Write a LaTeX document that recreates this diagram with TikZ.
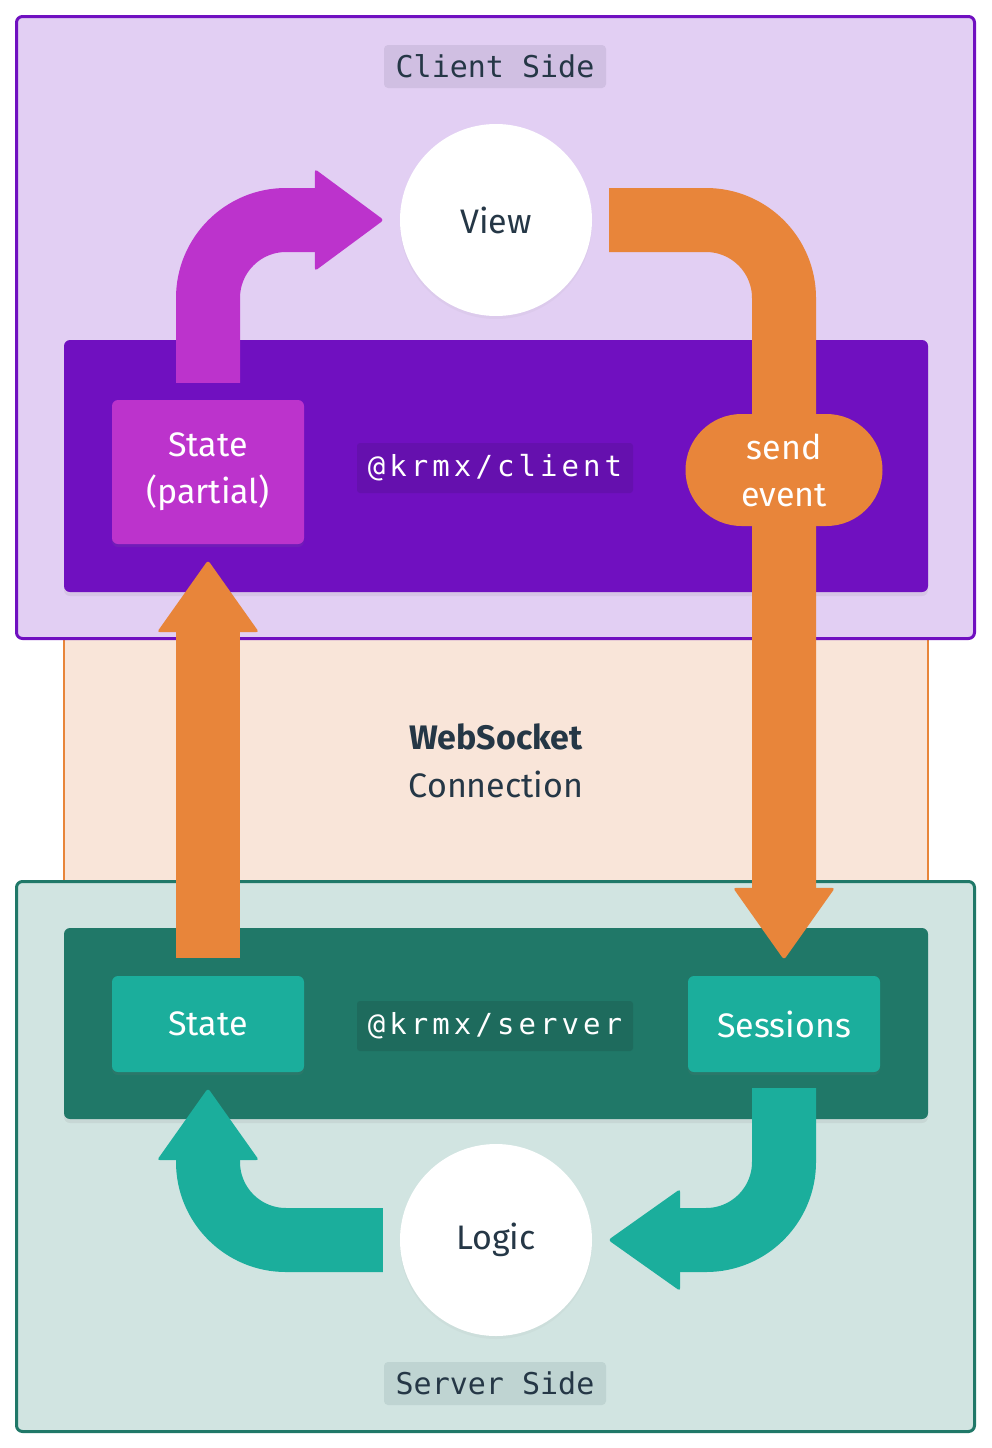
\documentclass[tikz,border=0pt]{standalone}
\usepackage{fontspec}
\setmainfont{Fira Sans}
\newfontfamily\monoA{DejaVu Sans Mono}
\newfontfamily\monoB[LetterSpace=14]{DejaVu Sans Mono}
\usetikzlibrary{calc,shadows}
\definecolor{clientbg}{HTML}{E2CFF3}
\definecolor{purp}{HTML}{7010C0}
\definecolor{purpdark}{HTML}{6510AE}
\definecolor{magen}{HTML}{BC33CC}
\definecolor{clientlab}{HTML}{D0BFE2}
\definecolor{orng}{HTML}{E8853A}
\definecolor{wsbg}{HTML}{F9E5D9}
\definecolor{serverbg}{HTML}{D1E4E1}
\definecolor{sgreen}{HTML}{207868}
\definecolor{sgreendark}{HTML}{1E6B5D}
\definecolor{teal}{HTML}{1BAE9C}
\definecolor{serverlab}{HTML}{BFD4D2}
\definecolor{ink}{HTML}{253746}
\pgfdeclarelayer{bg}
\pgfdeclarelayer{mid}
\pgfsetlayers{bg,mid,main}
\tikzset{
  sidebox/.style={draw, line width=3pt, rounded corners=6pt, minimum width=958pt},
  panel/.style={rounded corners=6pt, minimum width=864pt, drop shadow={opacity=0.12, shadow xshift=0pt, shadow yshift=-4pt}},
  sidelabel/.style={rounded corners=4pt, minimum width=222pt, minimum height=43pt, text=ink, font=\monoA\fontsize{30}{30}\selectfont},
  liblabel/.style={rounded corners=3pt, minimum width=276pt, minimum height=50pt, text=white, font=\monoB\fontsize{29}{30}\selectfont},
  databox/.style={rounded corners=6pt, minimum width=192pt, text=white, align=center, font=\fontsize{34}{47}\selectfont, drop shadow={opacity=0.12, shadow xshift=0pt, shadow yshift=-3pt}},
  bubble/.style={circle, fill=white, minimum size=192pt, text=ink, font=\fontsize{34}{40}\selectfont, drop shadow={opacity=0.06, shadow xshift=0pt, shadow yshift=-3pt}},
  shaft/.style={line width=64pt, rounded corners=78pt},
  arrowhead/.style={rounded corners=3pt}
}
\begin{document}
\begin{tikzpicture}[x=1pt,y=-1pt]
\useasboundingbox (0,0) rectangle (992,1448);
\begin{pgfonlayer}{bg}
\fill[white] (0,0) rectangle (992,1448);
% websocket band
\node[fill=wsbg, draw=orng, line width=2.5pt, minimum width=864pt, minimum height=262pt] (ws) at (496,760) {};
% client side
\node[sidebox, draw=purp, fill=clientbg, minimum height=622pt] (client) at (495.5,327.5) {};
% server side
\node[sidebox, draw=sgreen, fill=serverbg, minimum height=550pt] (server) at (495.5,1156.5) {};
\node[panel, fill=purp, minimum height=252pt] (cpanel) at (496,466) {};
\node[panel, fill=sgreen, minimum height=191pt] (spanel) at (496,1023.5) {};
\end{pgfonlayer}

% labels and nodes
\node[sidelabel, fill=clientlab] (clientlabel) at (495,66.5) {Client Side};
\node[sidelabel, fill=serverlab] (serverlabel) at (495,1383.5) {Server Side};
\node[bubble] (view) at (496,220) {View};
\node[bubble] (logic) at (496,1240) {Logic};
\node[databox, fill=magen, minimum height=144pt] (statep) at (208,472) {State\\(partial)};
\node[liblabel, fill=purpdark] (clientlib) at (495,468) {@krmx/client};
\node[rounded corners=56pt, fill=orng, minimum width=197pt, minimum height=112pt, text=white, align=center, font=\fontsize{34}{47}\selectfont] (send) at (784,470) {send\\event};
\node[databox, fill=teal, minimum height=96pt] (state) at (208,1024) {State};
\node[databox, fill=teal, minimum height=96pt] (sessions) at (784,1024) {Sessions};
\node[liblabel, fill=sgreendark] (serverlib) at (495,1026) {@krmx/server};
\node[text=ink, align=center, font=\fontsize{34}{48}\selectfont] (wstext) at (496,761) {\textbf{WebSocket}\\Connection};

\begin{pgfonlayer}{mid}
% State (partial) -> View
\draw[shaft, draw=magen] ($(statep.north)+(0,-17)$) -- (statep.north |- view.center) -- ($(view.west)+(-84,0)$);
\fill[arrowhead, magen] ($(view.west)+(-85,-51)$) -- ($(view.west)+(-16,0)$) -- ($(view.west)+(-85,51)$) -- cycle;
% View -> send event -> Sessions
\draw[shaft, draw=orng] ($(view.east)+(17,0)$) -- (sessions.north |- view.center) -- ($(sessions.north)+(0,-87)$);
\fill[arrowhead, orng] ($(sessions.north)+(-51,-88)$) -- ($(sessions.north)+(0,-16)$) -- ($(sessions.north)+(51,-88)$) -- cycle;
% State -> State (partial)
\draw[line width=64pt, draw=orng] ($(state.north)+(0,-18)$) -- ($(statep.south)+(0,87)$);
\fill[arrowhead, orng] ($(statep.south)+(-51,88)$) -- ($(statep.south)+(0,16)$) -- ($(statep.south)+(51,88)$) -- cycle;
% Sessions -> Logic
\draw[shaft, draw=teal] ($(sessions.south)+(0,16)$) -- (sessions.south |- logic.center) -- ($(logic.east)+(87,0)$);
\fill[arrowhead, teal] ($(logic.east)+(88,-51)$) -- ($(logic.east)+(16,0)$) -- ($(logic.east)+(88,51)$) -- cycle;
% Logic -> State
\draw[shaft, draw=teal] ($(logic.west)+(-17,0)$) -- (state.south |- logic.center) -- ($(state.south)+(0,87)$);
\fill[arrowhead, teal] ($(state.south)+(-51,88)$) -- ($(state.south)+(0,16)$) -- ($(state.south)+(51,88)$) -- cycle;
\end{pgfonlayer}
\end{tikzpicture}
\end{document}
